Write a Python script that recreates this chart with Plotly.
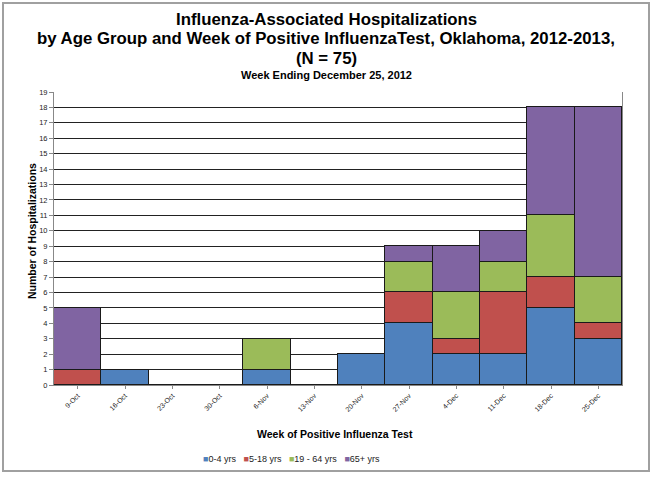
import plotly.graph_objects as go

weeks = ["9-Oct", "16-Oct", "23-Oct", "30-Oct", "6-Nov", "13-Nov",
         "20-Nov", "27-Nov", "4-Dec", "11-Dec", "18-Dec", "25-Dec"]

age_0_4 = [0, 1, 0, 0, 1, 0, 2, 4, 2, 2, 5, 3]
age_5_18 = [1, 0, 0, 0, 0, 0, 0, 2, 1, 4, 2, 1]
age_19_64 = [0, 0, 0, 0, 2, 0, 0, 2, 3, 2, 4, 3]
age_65_plus = [4, 0, 0, 0, 0, 0, 0, 1, 3, 2, 7, 11]

series = [
    ("0-4 yrs", age_0_4, "#4F81BD"),
    ("5-18 yrs", age_5_18, "#C0504D"),
    ("19 - 64 yrs", age_19_64, "#9BBB59"),
    ("65+ yrs", age_65_plus, "#8064A2"),
]

FONT = "Liberation Sans, Arial, sans-serif"
W, H = 653, 477
L, R, T, B = 54, 31, 92, 92
plot_w = W - L - R
plot_h = H - T - B


def px_y(row):
    # pixel row -> paper y
    return (H - B - row) / plot_h


def px_x(col):
    return (col - L) / plot_w


fig = go.Figure()
for name, vals, col in series:
    fig.add_trace(go.Bar(
        x=weeks, y=vals, name=name, showlegend=False,
        marker=dict(color=col, line=dict(color="#1a1a1a", width=1)),
    ))

# compact legend, drawn as one line of text like the original
legend_txt = "   ".join(
    "<span style='color:%s'>■</span>%s" % (col, name) for name, _, col in series
)

titles = [
    ("<b>Influenza-Associated Hospitalizations</b>", 19, 16.8),
    ("<b>by Age Group and Week of Positive InfluenzaTest, Oklahoma, 2012-2013,</b>", 39, 16.8),
    ("<b>(N = 75)</b>", 58, 16.8),
    ("<b>Week Ending December 25, 2012</b>", 75, 11),
]
annotations = [
    dict(text=t, x=px_x(326), y=px_y(row), xref="paper", yref="paper",
         yanchor="middle", showarrow=False, font=dict(size=s))
    for t, row, s in titles
]
annotations += [
    dict(text="<b>Week of Positive Influenza Test</b>", x=px_x(335), y=px_y(434),
         xref="paper", yref="paper", yanchor="middle", showarrow=False,
         font=dict(size=10.5)),
    dict(text="<b>Number of Hospitalizations</b>", x=px_x(32), y=px_y(231),
         xref="paper", yref="paper", textangle=-90, xanchor="center",
         yanchor="middle", showarrow=False, font=dict(size=10.5)),
    dict(text=legend_txt, x=px_x(291), y=px_y(459), xref="paper", yref="paper",
         yanchor="middle", showarrow=False, font=dict(size=9, color="#222")),
]

fig.update_layout(
    barmode="stack",
    bargap=0,
    width=W, height=H,
    margin=dict(l=L, r=R, t=T, b=B),
    paper_bgcolor="white",
    plot_bgcolor="white",
    font=dict(family=FONT, color="#000"),
    showlegend=False,
    xaxis=dict(
        tickangle=-45, tickfont=dict(size=7, color="#222"),
        showline=True, linecolor="#888", linewidth=1,
        ticks="outside", ticklen=3, tickcolor="#888",
        automargin=False,
    ),
    yaxis=dict(
        range=[0, 19], dtick=1, tickfont=dict(size=7.5, color="#222"),
        showgrid=True, gridcolor="#222", gridwidth=1,
        showline=True, linecolor="#888", linewidth=1, mirror=True,
        ticks="outside", ticklen=4, tickcolor="#888",
        zeroline=False, automargin=False,
    ),
    annotations=annotations,
)

# outer frame
fig.add_shape(type="rect", xref="paper", yref="paper",
              x0=px_x(3), x1=px_x(649), y0=px_y(471), y1=px_y(3),
              line=dict(color="#a0a0a0", width=2), layer="below")

# drop the browser's default page margin so the figure sits at 0,0
fig.write_html("out.html", config={"displayModeBar": False},
               post_script="document.body.style.margin='0';")
